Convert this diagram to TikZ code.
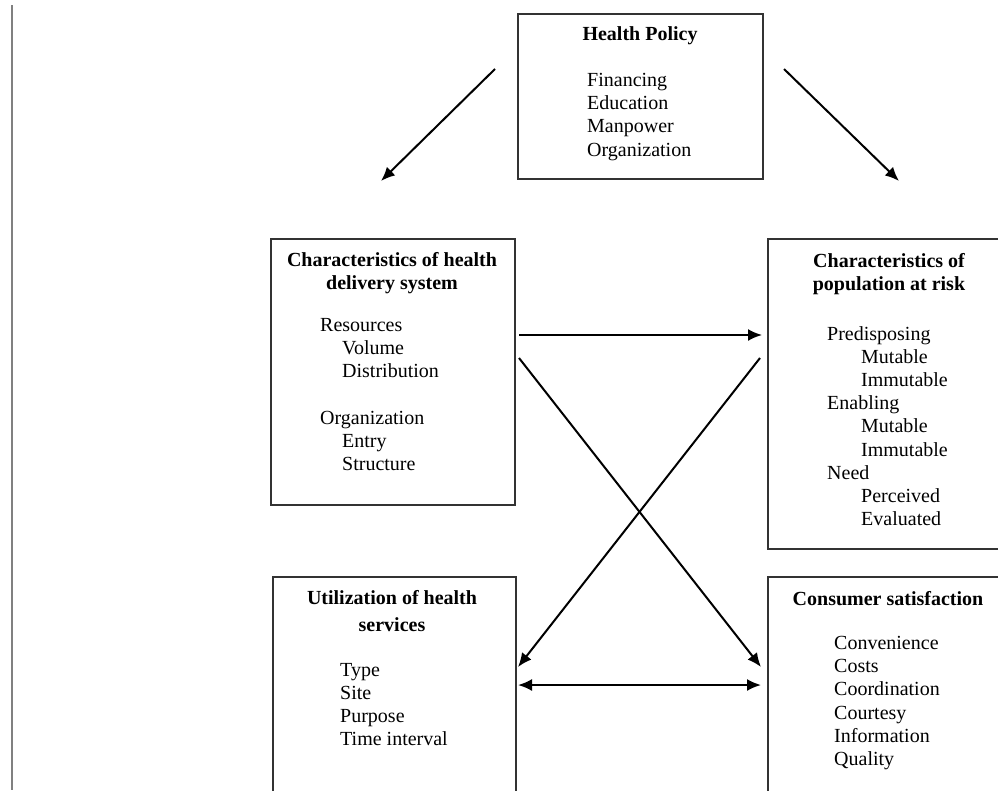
\documentclass[tikz,border=0pt]{standalone}
\usepackage{fontspec}
\setmainfont{Liberation Serif}
\usetikzlibrary{arrows.meta}
\begin{document}
\begin{tikzpicture}[x=1pt,y=-1pt,
	box/.style={draw=black!80,line width=2pt,anchor=north west,inner sep=0pt},
	head/.style={font=\fontsize{20}{23.2}\selectfont\bfseries,align=center,anchor=north,inner sep=0pt},
	items/.style={font=\fontsize{20}{23.2}\selectfont,align=left,anchor=north west,inner sep=0pt},
	arr/.style={-{Latex[length=14pt,width=12pt]},line width=2pt}]
	\useasboundingbox (0,0) rectangle (998,790);
	\draw[black!50,line width=2.5pt] (12,5) -- (12,790);
	% boxes
	\node[box,minimum width=245pt,minimum height=165pt] (policy) at (517,13) {};
	\node[box,minimum width=244pt,minimum height=266pt] (deliv) at (270,238) {};
	\node[box,minimum width=250pt,minimum height=310pt] (popul) at (767,238) {};
	\node[box,minimum width=243pt,minimum height=230pt] (util) at (272,576) {};
	\node[box,minimum width=250pt,minimum height=230pt] (consum) at (767,576) {};
	% texts
	\node[head] (policyT) at (640,26) {Health Policy};
	\node[items] (policyL) at (587,73) {Financing\\Education\\Manpower\\Organization};
	\node[head] (delivT) at (392,252) {Characteristics of health\\delivery system};
	\node[items] (delivL) at (320,318) {Resources\\\hspace*{22pt}Volume\\\hspace*{22pt}Distribution\\[23.2pt]
		Organization\\\hspace*{22pt}Entry\\\hspace*{22pt}Structure};
	\node[head] (populT) at (889,253) {Characteristics of\\population at risk};
	\node[items] (populL) at (827,326) {Predisposing\\\hspace*{34pt}Mutable\\\hspace*{34pt}Immutable\\
		Enabling\\\hspace*{34pt}Mutable\\\hspace*{34pt}Immutable\\
		Need\\\hspace*{34pt}Perceived\\\hspace*{34pt}Evaluated};
	\node[head] (utilT) at (392,590) {Utilization of health\\[4pt]services};
	\node[items] (utilL) at (340,663) {Type\\Site\\Purpose\\Time interval};
	\node[head] (consumT) at (888,591) {Consumer satisfaction};
	\node[items] (consumL) at (834,636) {Convenience\\Costs\\Coordination\\Courtesy\\Information\\Quality};
	% arrow ends
	\coordinate (pL) at (495,69);
	\coordinate (dT) at (381,181);
	\coordinate (pR) at (784,69);
	\coordinate (rT) at (899,181);
	\coordinate (dE) at (519,335);
	\coordinate (rW) at (762,335);
	\coordinate (dX) at (519,358);
	\coordinate (rX) at (760,358);
	\coordinate (uX) at (518,667);
	\coordinate (cX) at (761,667);
	\coordinate (uE) at (518,685);
	\coordinate (cW) at (761,685);
	% connectors
	\draw[arr] (pL) -- (dT);
	\draw[arr] (pR) -- (rT);
	\draw[arr] (dE) -- (rW);
	\draw[arr] (dX) -- (cX);
	\draw[arr] (rX) -- (uX);
	\draw[arr,{Latex[length=14pt,width=12pt]}-{Latex[length=14pt,width=12pt]}] (uE) -- (cW);
\end{tikzpicture}
\end{document}
